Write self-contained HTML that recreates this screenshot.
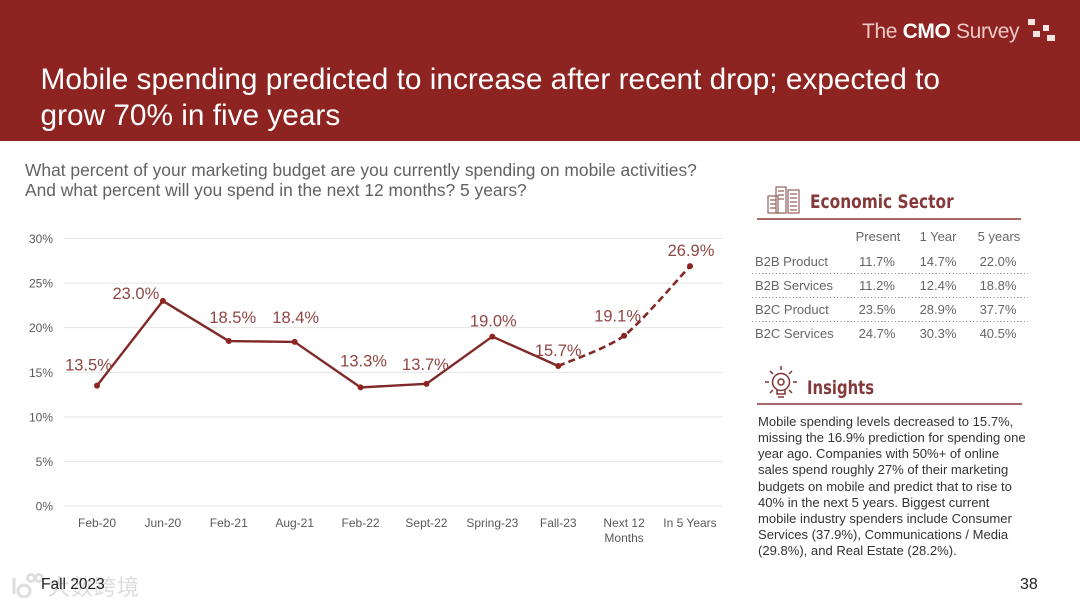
<!DOCTYPE html>
<html lang="en">
<head>
<meta charset="utf-8">
<title>Mobile spending chart</title>
<style>
html,body{margin:0;padding:0;background:#fff}
body{width:1080px;height:608px;position:relative;overflow:hidden;font-family:"Liberation Sans",Arial,sans-serif}
.abs{position:absolute;white-space:nowrap}
#header{position:absolute;left:0;top:0;width:1080px;height:141px;background:#8d2422}
#title{left:40.5px;top:62px;font-size:29.8px;line-height:36px;color:#fff}
#question{left:25px;top:160px;font-size:17.4px;line-height:20px;color:#626262}
.sec{font-family:"DejaVu Sans","Liberation Sans",sans-serif;font-weight:bold;font-size:19px;color:#843a3a;transform-origin:left top}
.rule{position:absolute;height:2px;background:#a86a68}
.dots{position:absolute;left:752px;width:276px;height:1px;background:repeating-linear-gradient(90deg,#8a8a8a 0,#8a8a8a 1.2px,transparent 1.2px,transparent 3.4px)}
.cell{position:absolute;font-size:13px;line-height:16px;color:#666;white-space:nowrap}
.c{transform:translateX(-50%)}
#insights{left:758px;top:414px;font-size:13.05px;line-height:16.15px;color:#333}
#chart{position:absolute;left:0;top:0}
</style>
</head>
<body>
<div id="header"></div>
<div class="abs" style="left:862px;top:19px;font-size:21px;line-height:25px;color:#f0c9c4;letter-spacing:-.36px">The <b style="color:#fff">CMO</b> Survey</div>
<svg class="abs" style="left:1020px;top:17px" width="40" height="28">
<rect x="8" y="2" width="7" height="6" fill="#f6e4e0"/><rect x="13" y="14" width="7" height="6" fill="#f6e4e0"/><rect x="23" y="8" width="6" height="6" fill="#f6e4e0"/><rect x="27" y="18" width="8" height="6" fill="#f6e4e0"/>
</svg>
<div id="title" class="abs">Mobile spending predicted to increase after recent drop; expected to<br>grow 70% in five years</div>
<div id="question" class="abs">What percent of your marketing budget are you currently spending on mobile activities?<br>And what percent will you spend in the next 12 months? 5 years?</div>

<svg id="chart" width="750" height="560"></svg>

<svg class="abs" style="left:766px;top:185px" width="36" height="30" fill="none" stroke="#96605e" stroke-width="1.2">
<rect x="2" y="11" width="10" height="17"/><rect x="10" y="2" width="10" height="26"/><rect x="22" y="5" width="11" height="23"/><path d="M4 15h6M4 19h6M4 23h6M12 6h6M12 10h6M12 14h6M24 9h7M24 13h7M24 17h7M24 21h7M24 25h7"/>
</svg>
<div class="abs sec" style="left:810px;top:191px;transform:scaleX(.81)">Economic Sector</div>
<div class="rule" style="left:757px;top:218px;width:264px"></div>

<div class="cell c" style="left:878px;top:229px">Present</div>
<div class="cell c" style="left:938px;top:229px">1 Year</div>
<div class="cell c" style="left:999px;top:229px">5 years</div>

<div class="cell" style="left:755px;top:254px">B2B Product</div>
<div class="cell c" style="left:877px;top:254px">11.7%</div>
<div class="cell c" style="left:938px;top:254px">14.7%</div>
<div class="cell c" style="left:998px;top:254px">22.0%</div>
<div class="dots" style="top:273px"></div>

<div class="cell" style="left:755px;top:278px">B2B Services</div>
<div class="cell c" style="left:877px;top:278px">11.2%</div>
<div class="cell c" style="left:938px;top:278px">12.4%</div>
<div class="cell c" style="left:998px;top:278px">18.8%</div>
<div class="dots" style="top:297px"></div>

<div class="cell" style="left:755px;top:302px">B2C Product</div>
<div class="cell c" style="left:877px;top:302px">23.5%</div>
<div class="cell c" style="left:938px;top:302px">28.9%</div>
<div class="cell c" style="left:998px;top:302px">37.7%</div>
<div class="dots" style="top:321px"></div>

<div class="cell" style="left:755px;top:326px">B2C Services</div>
<div class="cell c" style="left:877px;top:326px">24.7%</div>
<div class="cell c" style="left:938px;top:326px">30.3%</div>
<div class="cell c" style="left:998px;top:326px">40.5%</div>

<svg class="abs" style="left:764px;top:365px" width="36" height="38" fill="none" stroke="#7e3432" stroke-width="1.5">
<circle cx="17" cy="17" r="8.5"/><circle cx="17" cy="17" r="3"/><path d="M13 25v4h8v-4M14 32h6M17 1v4M6 6l3 3M28 6l-3 3M1 17h4M29 17h4M6 28l3-3M28 28l-3-3"/>
</svg>
<div class="abs sec" style="left:807px;top:377px;transform:scaleX(.78)">Insights</div>
<div class="rule" style="left:757px;top:403px;width:265px"></div>
<div id="insights" class="abs">Mobile spending levels decreased to 15.7%,<br>missing the 16.9% prediction for spending one<br>year ago. Companies with 50%+ of online<br>sales spend roughly 27% of their marketing<br>budgets on mobile and predict that to rise to<br>40% in the next 5 years. Biggest current<br>mobile industry spenders include Consumer<br>Services (37.9%), Communications / Media<br>(29.8%), and Real Estate (28.2%).</div>

<div class="abs" style="left:48px;top:575px;font-family:'Liberation Sans','Noto Sans CJK SC',sans-serif;font-size:22px;line-height:26px;color:#dcdcdc;letter-spacing:1px;text-shadow:0 0 3px #fff">大数跨境</div>
<svg class="abs" style="left:8px;top:572px" width="38" height="28" fill="none" stroke="#dedede" stroke-width="3"><path d="M6 6v16"/><circle cx="16" cy="19" r="6"/><circle cx="23" cy="6" r="3.5"/><circle cx="31" cy="6" r="3.5"/></svg>
<div class="abs" style="left:41px;top:576px;font-size:15.5px;line-height:18px;color:#222">Fall 2023</div>
<div class="abs" style="left:1020px;top:575px;font-size:16px;line-height:19px;color:#222">38</div>

<script>
var categories = ["Feb-20","Jun-20","Feb-21","Aug-21","Feb-22","Sept-22","Spring-23","Fall-23","Next 12|Months","In 5 Years"];
var spending = [13.5,23.0,18.5,18.4,13.3,13.7,19.0,15.7,19.1,26.9];
var yTicks = [0,5,10,15,20,25,30];
var firstProjectedIndex = 7;

var NS = "http://www.w3.org/2000/svg";
var svg = document.getElementById("chart");
var plot = {left:64, right:723, top:238.5, bottom:506};
var labelNudgeX = [-8.5,-27,4,1,3,-1,1,0,-6.5,1];
var labelNudgeY = [-20,-7,-23,-24,-26,-19,-15,-15,-19,-15];

function xScale(i){ return 97 + i * (690 - 97) / (categories.length - 1); }
function yScale(v){ return plot.bottom - v * (plot.bottom - plot.top) / 30; }
function make(tag, attrs, parent){
  var el = document.createElementNS(NS, tag);
  for (var k in attrs) el.setAttribute(k, attrs[k]);
  (parent || svg).appendChild(el);
  return el;
}

yTicks.forEach(function(t){
  var grid = make("line",{x1:plot.left,x2:plot.right,y1:yScale(t),y2:yScale(t),stroke:"#e4e4e4","stroke-width":1});
  
  
  var tick = make("text",{x:53,y:yScale(t)+4.5,"text-anchor":"end","font-size":12,fill:"#595959","font-family":"Liberation Sans, sans-serif"});
  tick.textContent = t + "%";
  
  
});

categories.forEach(function(c,i){
  c.split("|").forEach(function(part,j){
    var lab = make("text",{x:xScale(i),y:527+j*15,"text-anchor":"middle","font-size":12,fill:"#595959","font-family":"Liberation Sans, sans-serif"});
    lab.textContent = part;
    
    
  });
});

function pathFor(from,to){
  var d = "";
  for (var i = from; i <= to; i++) d += (i === from ? "M" : "L") + xScale(i) + " " + yScale(spending[i]);
  return d;
}
function smoothPathFor(from,to){
  var d = "M" + xScale(from) + " " + yScale(spending[from]);
  for (var i = from; i < to; i++) {
    var a = Math.max(i-1,from), b = Math.min(i+2,to);
    var c1x = xScale(i) + (xScale(i+1)-xScale(a))/8, c1y = yScale(spending[i]) + (yScale(spending[i+1])-yScale(spending[a]))/8;
    var c2x = xScale(i+1) - (xScale(b)-xScale(i))/8, c2y = yScale(spending[i+1]) - (yScale(spending[b])-yScale(spending[i]))/8;
    d += "C" + c1x + " " + c1y + " " + c2x + " " + c2y + " " + xScale(i+1) + " " + yScale(spending[i+1]);
  }
  return d;
}
var actual = make("path",{d:pathFor(0,firstProjectedIndex),fill:"none",stroke:"#7f2a28","stroke-width":2.4,"stroke-linejoin":"round"});


var projected = make("path",{d:smoothPathFor(firstProjectedIndex,spending.length-1),fill:"none",stroke:"#7f2a28","stroke-width":2.6,"stroke-dasharray":"7 4"});



spending.forEach(function(v,i){
  var pt = make("circle",{cx:xScale(i),cy:yScale(v),r:3,fill:"#8d2422"});
  
  
  var val = make("text",{x:xScale(i)+labelNudgeX[i],y:yScale(v)+labelNudgeY[i]+5,"text-anchor":"middle","font-size":16.5,fill:"#8f4644","font-family":"Liberation Sans, sans-serif"});
  val.textContent = v.toFixed(1) + "%";
  
  
});
</script>
</body>
</html>
